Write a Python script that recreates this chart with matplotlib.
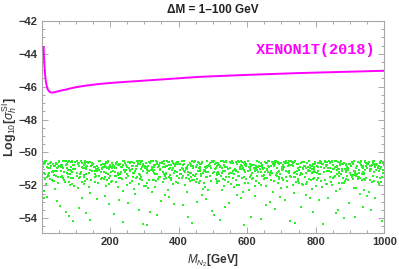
import matplotlib
matplotlib.use("Agg")
import matplotlib.pyplot as plt
from matplotlib.ticker import MultipleLocator

# XENON1T (2018) limit curve
curve_x = [6, 8, 10, 12, 15, 18, 22, 26, 30, 35, 40, 50, 60, 70, 85, 100, 130, 170, 220, 270, 350, 460, 600, 750, 1000]
curve_y = [-43.6, -44.6, -45.2, -45.6, -45.95, -46.15, -46.28, -46.34, -46.36, -46.35, -46.32, -46.27, -46.22,
           -46.18, -46.1, -46.03, -45.93, -45.83, -45.74, -45.67, -45.56, -45.4, -45.28, -45.17, -45.03]

# scan points: dense band
band_x = [
    14, 118, 243, 305, 421, 537, 611, 748, 822, 957,
    63, 171, 209, 386, 468, 592, 677, 713, 869, 931,
    38, 149, 282, 341, 407, 511, 655, 794, 847, 992,
    91, 102, 256, 367, 493, 569, 633, 726, 885, 914,
    27, 192, 224, 318, 444, 578, 694, 771, 808, 968,
    76, 135, 267, 399, 456, 503, 620, 759, 893, 946,
    5, 163, 238, 329, 482, 546, 687, 702, 834, 975,
    52, 184, 291, 352, 415, 527, 641, 783, 856, 909,
    83, 127, 216, 374, 437, 558, 669, 737, 877, 983,
    44, 156, 275, 336, 499, 584, 602, 764, 815, 951,
    19, 108, 231, 311, 461, 516, 659, 719, 863, 924,
    69, 196, 262, 389, 428, 573, 627, 791, 899, 962,
    31, 141, 205, 358, 474, 535, 683, 744, 841, 937,
    95, 177, 288, 323, 409, 596, 648, 707, 872, 996,
    9, 124, 249, 347, 451, 508, 615, 777, 828, 919,
    58, 166, 221, 395, 487, 562, 672, 733, 889, 973,
    36, 115, 279, 306, 433, 529, 637, 798, 851, 942,
    87, 188, 214, 363, 479, 581, 694, 756, 806, 987,
    22, 131, 258, 332, 418, 549, 608, 721, 867, 903,
    73, 159, 296, 381, 462, 514, 663, 789, 833, 958,
    48, 102, 237, 315, 446, 591, 624, 748, 894, 929,
    97, 173, 269, 354, 405, 543, 699, 712, 818, 966,
    3, 138, 202, 392, 491, 576, 652, 767, 876, 911,
    61, 191, 281, 327, 425, 521, 618, 739, 845, 984,
    34, 152, 246, 369, 471, 567, 681, 704, 861, 947,
    81, 111, 218, 302, 438, 506, 646, 794, 823, 916,
    16, 179, 273, 343, 484, 555, 612, 727, 884, 978,
    66, 127, 254, 376, 413, 532, 667, 778, 852, 938,
    42, 197, 209, 338, 459, 589, 639, 751, 807, 991,
    93, 144, 292, 397, 426, 518, 688, 715, 898, 925,
    11, 106, 227, 319, 441, 553, 629, 763, 871, 955,
    56, 168, 289, 359, 497, 598, 674, 708, 812, 934,
    25, 121, 241, 384, 453, 524, 605, 792, 858, 999,
    78, 186, 264, 325, 411, 571, 691, 734, 836, 912,
    39, 133, 206, 371, 469, 542, 657, 781, 881, 961,
    88, 155, 284, 308, 432, 586, 621, 722, 849, 943,
    7, 114, 232, 351, 488, 505, 684, 757, 803, 988,
    64, 199, 271, 393, 416, 564, 643, 796, 866, 920,
    46, 147, 223, 334, 477, 537, 696, 741, 892, 971,
    99, 176, 252, 366, 448, 593, 632, 703, 827, 951,
    29, 104, 297, 313, 404, 515, 661, 776, 855, 907,
    71, 161, 216, 387, 493, 578, 619, 729, 813, 982,
    18, 139, 286, 328, 435, 549, 677, 786, 897, 933,
    85, 193, 247, 372, 457, 509, 636, 714, 841, 966,
    50, 126, 264, 347, 422, 582, 651, 753, 874, 917,
    2, 183, 229, 301, 483, 533, 608, 799, 829, 996,
    75, 117, 278, 356, 414, 566, 689, 732, 863, 944,
    33, 170, 211, 385, 466, 521, 664, 768, 816, 976,
    90, 148, 259, 317, 443, 597, 626, 711, 887, 909,
    54, 194, 236, 378, 498, 557, 682, 784, 838, 959,
    4, 129, 244, 309, 424, 547, 616, 746, 824, 953,
    60, 174, 208, 383, 464, 595, 673, 718, 864, 936,
    41, 146, 285, 344, 403, 513, 659, 797, 846, 989,
    89, 107, 259, 364, 495, 566, 635, 723, 887, 915,
    24, 189, 226, 321, 442, 579, 691, 772, 809, 970,
    77, 132, 266, 396, 458, 502, 623, 761, 892, 945,
    10, 162, 240, 327, 480, 545, 686, 701, 835, 974,
    51, 182, 293, 353, 417, 528, 642, 782, 857, 910,
    84, 128, 215, 373, 436, 559, 668, 738, 878, 984,
    45, 157, 276, 337, 500, 585, 601, 765, 814, 950,
    20, 109, 230, 310, 462, 517, 660, 720, 862, 925,
    70, 195, 263, 390, 427, 574, 628, 790, 900, 963,
    32, 140, 204, 357, 475, 534, 684, 745, 840, 938,
    96, 178, 287, 324, 410, 595, 649, 706, 873, 995,
    8, 125, 248, 346, 452, 507, 614, 778, 829, 920,
    57, 167, 222, 394, 486, 563, 671, 732, 888, 972,
    35, 116, 280, 307, 434, 530, 638, 797, 850, 941,
    86, 187, 213, 362, 478, 580, 695, 755, 805, 986,
    23, 130, 257, 331, 419, 550, 607, 722, 868, 904,
    74, 160, 295, 380, 463, 513, 662, 788, 834, 957,
]
band_y = [
    -50.52, -50.88, -51.21, -50.67, -51.03, -50.59, -51.35, -50.94, -50.71, -51.12,
    -50.97, -50.55, -50.79, -51.28, -50.63, -51.09, -50.84, -50.51, -51.19, -50.76,
    -51.15, -50.69, -50.58, -50.91, -51.33, -50.82, -50.65, -51.06, -50.57, -50.89,
    -50.74, -51.24, -50.96, -50.53, -50.81, -50.68, -51.17, -50.78, -50.99, -51.36,
    -50.61, -50.93, -51.38, -51.07, -50.56, -50.99, -50.72, -51.26, -50.66, -50.54,
    -51.31, -50.62, -50.85, -50.73, -51.14, -50.51, -50.95, -50.61, -51.04, -50.83,
    -50.86, -51.11, -50.54, -51.23, -50.89, -51.29, -50.58, -50.87, -50.74, -51.08,
    -50.58, -50.77, -51.01, -50.64, -50.71, -50.94, -51.22, -51.13, -50.55, -50.68,
    -51.05, -50.52, -50.69, -50.97, -51.27, -50.65, -50.80, -50.57, -51.16, -50.92,
    -50.70, -51.34, -50.83, -50.56, -50.60, -51.02, -50.53, -50.98, -50.86, -50.63,
    -50.95, -50.66, -51.18, -50.81, -50.98, -50.73, -51.09, -50.64, -51.30, -50.58,
    -50.54, -50.89, -50.60, -51.12, -50.76, -50.55, -50.92, -51.20, -50.69, -51.01,
    -51.20, -50.58, -50.93, -50.68, -51.06, -51.15, -50.61, -50.72, -50.97, -50.80,
    -50.79, -51.03, -50.72, -50.99, -50.53, -50.84, -51.37, -50.90, -50.62, -51.25,
    -50.65, -50.74, -51.29, -51.04, -50.87, -50.62, -50.77, -51.05, -50.52, -50.96,
    -51.10, -50.96, -50.57, -50.61, -51.21, -51.08, -50.56, -50.66, -51.07, -50.71,
    -50.83, -51.19, -50.81, -50.86, -50.67, -50.52, -50.99, -50.59, -50.78, -51.32,
    -50.57, -50.60, -50.97, -51.31, -50.94, -50.79, -51.14, -51.23, -50.91, -50.58,
    -51.26, -50.86, -50.63, -50.75, -51.11, -50.97, -50.69, -50.54, -51.28, -50.85,
    -50.68, -51.07, -51.10, -50.51, -50.72, -51.18, -50.87, -50.82, -50.60, -51.05,
    -50.91, -50.53, -50.74, -51.16, -50.59, -50.66, -51.03, -50.69, -50.93, -50.67,
    -51.02, -50.79, -51.27, -50.88, -51.33, -51.01, -50.62, -51.10, -50.73, -50.56,
    -50.60, -51.23, -50.88, -50.66, -50.80, -50.57, -51.19, -50.58, -51.03, -51.14,
    -50.77, -50.65, -50.55, -51.09, -50.98, -50.86, -50.75, -51.17, -50.57, -50.81,
    -51.13, -50.90, -51.05, -50.60, -51.24, -51.13, -50.55, -50.76, -50.82, -50.63,
    -50.55, -51.29, -50.66, -50.94, -50.54, -50.70, -50.98, -50.96, -51.21, -51.27,
    -50.89, -50.71, -51.15, -50.80, -50.85, -51.26, -50.84, -50.55, -50.65, -50.72,
    -51.22, -50.56, -50.61, -51.35, -51.02, -50.61, -51.25, -50.88, -50.99, -50.97,
    -50.63, -51.00, -50.91, -50.70, -50.65, -50.95, -50.66, -51.06, -51.11, -50.53,
    -50.99, -50.82, -50.53, -50.58, -51.17, -50.74, -50.92, -50.62, -50.68, -51.09,
    -50.50, -50.62, -50.71, -50.55, -50.83, -50.66, -50.51, -50.93, -50.74, -50.59,
    -50.78, -50.53, -50.60, -50.87, -50.52, -50.81, -50.70, -50.57, -50.64, -50.90,
    -50.67, -50.95, -50.50, -50.63, -50.74, -50.54, -50.86, -50.69, -50.50, -50.76,
    -50.56, -50.70, -50.84, -50.52, -50.96, -50.72, -50.58, -50.80, -50.92, -50.51,
    -50.85, -50.58, -50.66, -50.78, -50.57, -50.91, -50.63, -50.51, -50.69, -50.84,
    -50.61, -50.86, -50.53, -50.97, -50.64, -50.56, -50.95, -50.75, -50.55, -50.60,
    -50.73, -50.51, -50.89, -50.60, -50.79, -50.68, -50.53, -50.62, -50.83, -50.66,
    -50.52, -50.77, -50.62, -50.69, -50.55, -50.99, -50.76, -50.87, -50.58, -50.80,
    -50.94, -50.64, -50.76, -50.54, -50.88, -50.50, -50.67, -50.55, -50.96, -50.52,
    -50.58, -50.92, -50.57, -50.82, -50.51, -50.75, -50.89, -50.98, -50.61, -50.71,
    -50.80, -50.55, -50.68, -50.59, -50.70, -50.63, -50.52, -50.66, -50.86, -50.57,
    -50.51, -50.82, -50.94, -50.73, -50.62, -50.86, -50.74, -50.53, -50.52, -50.88,
    -50.69, -50.60, -50.52, -50.90, -50.84, -50.57, -50.61, -50.81, -50.70, -50.55,
    -50.88, -50.50, -50.79, -50.56, -50.59, -50.93, -50.80, -50.60, -50.65, -50.73,
    -50.55, -50.73, -50.61, -50.65, -50.97, -50.52, -50.58, -50.90, -50.54, -50.94,
    -50.60, -50.87, -50.70, -50.83, -50.53, -50.78, -50.96, -50.71, -50.77, -50.62,
    -50.96, -50.66, -50.55, -50.51, -50.76, -50.61, -50.65, -50.56, -50.91, -50.50,
    -50.72, -50.54, -50.85, -50.95, -50.68, -50.83, -50.54, -50.84, -50.59, -50.79,
    -50.53, -50.79, -50.58, -50.62, -50.92, -50.69, -50.83, -50.64, -50.72, -50.67,
    -50.82, -50.59, -50.90, -50.77, -50.57, -50.55, -50.71, -50.94, -50.51, -50.85,
    -51.25, -50.98, -50.62, -51.08, -50.88, -51.31, -50.77, -51.14, -50.93, -50.69,
    -50.84, -51.20, -51.12, -50.92, -51.29, -50.61, -51.27, -50.83, -51.01, -51.30,
    -50.71, -51.12, -51.32, -50.79, -51.04, -51.23, -51.00, -50.62, -51.19, -50.98,
    -51.17, -50.72, -51.07, -51.24, -50.97, -51.05, -50.60, -51.26, -50.75, -51.13,
    -50.93, -51.28, -50.76, -50.90, -51.35, -50.87, -51.22, -50.95, -51.34, -51.21,
    -51.06, -50.81, -51.24, -51.18, -50.92, -51.21, -51.11, -51.30, -50.87, -51.04,
    -51.33, -51.02, -51.08, -50.74, -51.18, -50.99, -51.28, -51.09, -51.15, -50.84,
    -50.80, -51.22, -50.86, -51.20, -51.11, -51.28, -50.91, -50.79, -50.88, -51.36,
    -51.29, -50.94, -51.22, -51.02, -50.78, -51.11, -51.36, -51.24, -50.73, -51.16,
    -51.10, -51.16, -50.98, -51.33, -51.23, -50.83, -51.13, -50.84, -51.30, -50.93,
    -51.38, -50.84, -51.34, -51.12, -51.14, -51.31, -50.81, -51.18, -51.07, -51.27,
    -50.76, -51.31, -51.03, -50.85, -51.36, -51.20, -51.05, -50.99, -51.25, -50.75,
    -51.20, -51.09, -51.17, -51.29, -51.10, -50.89, -51.37, -51.32, -51.12, -51.19,
    -51.01, -50.91, -51.36, -51.14, -50.96, -51.17, -50.93, -51.03, -51.34, -51.08,
    -51.27, -51.35, -50.90, -51.00, -51.32, -51.03, -51.26, -51.16, -50.81, -51.31,
    -50.88, -51.05, -51.27, -51.22, -50.85, -51.34, -51.16, -50.78, -51.21, -50.89,
    -51.36, -51.25, -50.73, -51.26, -51.27, -51.10, -50.85, -51.22, -51.02, -51.23,
    -51.13, -50.87, -51.19, -50.82, -51.06, -50.92, -51.30, -51.35, -51.28, -51.11,
    -50.95, -51.30, -51.14, -51.34, -51.21, -51.26, -51.07, -51.13, -50.98, -51.35,
    -51.24, -51.00, -50.80, -51.07, -50.89, -51.37, -51.20, -51.27, -51.16, -51.00,
]

# scan points: thinning region below the band
mid_x = [
    21, 134, 257, 342, 476, 519, 645, 773, 859, 948,
    68, 187, 213, 379, 409, 588, 603, 739, 826, 913,
    40, 112, 294, 305, 452, 546, 698, 716, 891, 985,
    86, 165, 239, 361, 429, 571, 658, 788, 844, 927,
    12, 142, 276, 333, 487, 508, 627, 747, 802, 969,
    59, 198, 224, 398, 437, 562, 676, 724, 879, 940,
    31, 123, 268, 321, 463, 539, 614, 762, 867, 994,
    94, 176, 203, 356, 418, 594, 693, 705, 818, 922,
    47, 105, 287, 374, 491, 527, 641, 795, 853, 956,
    79, 159, 249, 312, 445, 575, 669, 736, 886, 908,
    6, 191, 217, 391, 471, 512, 622, 779, 832, 979,
    63, 137, 299, 345, 402, 553, 687, 751, 872, 934,
    37, 181, 233, 369, 458, 597, 635, 717, 806, 963,
    82, 119, 271, 328, 425, 531, 653, 769, 895, 918,
    26, 156, 206, 384, 481, 568, 606, 742, 847, 989,
    15, 127, 252, 339, 473, 523, 648, 776, 856, 944,
    65, 184, 218, 377, 412, 585, 609, 735, 829, 919,
    42, 110, 291, 309, 455, 543, 692, 713, 889, 982,
    88, 168, 236, 364, 432, 574, 655, 785, 841, 930,
    10, 145, 279, 330, 484, 511, 630, 749, 804, 967,
    57, 196, 227, 395, 440, 559, 678, 727, 876, 942,
    33, 125, 265, 324, 466, 536, 617, 760, 869, 991,
    92, 174, 201, 353, 421, 591, 690, 703, 815, 924,
    49, 102, 285, 372, 494, 529, 643, 792, 851, 959,
    76, 157, 246, 314, 447, 577, 671, 738, 883, 906,
]
mid_y = [
    -51.45, -51.62, -51.88, -51.51, -52.10, -51.73, -51.41, -51.95, -52.32, -51.57,
    -51.78, -52.05, -51.44, -51.69, -51.55, -52.41, -51.84, -51.48, -51.66, -52.18,
    -52.25, -51.49, -51.67, -52.03, -51.82, -51.52, -52.14, -51.71, -51.43, -51.92,
    -51.58, -51.83, -52.36, -51.46, -51.60, -51.99, -51.53, -52.22, -51.79, -51.47,
    -51.93, -52.48, -51.56, -51.74, -52.27, -51.64, -51.76, -51.59, -52.06, -51.71,
    -51.42, -51.58, -52.11, -51.89, -51.47, -52.09, -52.38, -51.44, -51.55, -52.30,
    -51.67, -51.91, -51.49, -52.43, -51.72, -51.48, -51.61, -52.01, -51.86, -51.51,
    -52.07, -51.54, -51.77, -51.61, -51.97, -51.83, -51.52, -51.68, -52.13, -51.63,
    -51.50, -52.19, -51.63, -51.55, -51.45, -52.28, -51.98, -51.57, -51.49, -52.40,
    -51.81, -51.45, -51.98, -52.16, -51.66, -51.42, -51.70, -52.45, -51.74, -51.59,
    -52.34, -51.69, -51.43, -51.80, -52.20, -51.76, -52.05, -51.62, -51.90, -51.47,
    -51.53, -52.12, -52.02, -51.47, -51.58, -51.94, -51.46, -51.84, -52.24, -51.69,
    -51.72, -51.64, -51.55, -52.26, -51.87, -51.60, -51.89, -52.08, -51.54, -51.81,
    -51.96, -51.81, -52.20, -51.66, -52.39, -52.04, -51.57, -51.50, -51.68, -52.15,
    -51.60, -51.50, -51.73, -51.93, -51.51, -51.67, -52.29, -51.78, -52.00, -51.54,
    -51.52, -51.74, -51.41, -51.62, -51.88, -51.46, -51.59, -51.80, -51.44, -51.70,
    -51.66, -51.48, -51.82, -51.53, -51.43, -51.57, -51.47, -52.00, -51.93, -51.46,
    -51.44, -51.56, -51.50, -51.85, -51.64, -51.78, -51.62, -51.52, -51.61, -51.79,
    -51.90, -51.43, -51.64, -51.57, -51.76, -51.45, -52.02, -51.65, -51.50, -51.58,
    -51.61, -51.69, -51.47, -52.08, -51.50, -51.86, -51.45, -51.72, -51.67, -51.44,
    -51.48, -51.95, -51.58, -51.44, -51.69, -51.54, -51.74, -51.49, -51.83, -51.63,
    -51.75, -51.52, -51.71, -51.65, -51.46, -51.66, -51.53, -51.90, -51.46, -51.80,
    -51.56, -51.63, -51.45, -51.78, -51.55, -51.48, -51.87, -51.56, -51.72, -51.48,
    -51.84, -51.42, -51.92, -51.48, -51.73, -51.61, -51.46, -51.63, -51.58, -51.66,
    -51.47, -51.80, -51.55, -51.70, -51.45, -51.97, -51.68, -51.47, -51.85, -51.52,
]

# scan points: sparse tail
tail_x = [
    17, 108, 226, 338, 467, 522, 668, 783, 865, 951,
    72, 163, 295, 359, 414, 583, 612, 726, 811, 937,
    44, 129, 251, 307, 496, 548, 697, 758, 884, 972,
    91, 185, 212, 387, 439, 504, 639, 709, 837, 916,
    55, 141, 274, 348, 453, 569, 681, 793, 858, 993,
    8, 197, 238, 316, 481, 591, 622, 741, 896, 928,
    79, 118, 283, 372, 426, 536, 655, 771, 822, 960,
]
tail_y = [
    -52.70, -53.40, -52.90, -53.80, -52.60, -54.10, -53.00, -52.80, -53.50, -52.65,
    -53.60, -52.85, -54.35, -52.60, -53.20, -52.75, -53.90, -54.20, -52.90, -53.30,
    -52.95, -53.70, -53.10, -54.40, -53.55, -53.05, -52.70, -53.35, -54.00, -52.80,
    -54.20, -52.65, -53.75, -53.15, -54.30, -53.80, -54.05, -52.90, -52.75, -53.95,
    -53.25, -54.10, -52.55, -52.95, -53.00, -52.60, -53.45, -53.60, -53.70, -54.15,
    -52.80, -53.15, -54.25, -53.60, -52.85, -54.40, -52.65, -54.30, -53.10, -52.55,
    -53.85, -52.75, -53.50, -52.70, -53.90, -53.30, -53.20, -52.60, -54.35, -53.50,
]

x_ticks = [200, 400, 600, 800, 1000]
y_ticks = [-54, -52, -50, -48, -46, -44, -42]

plt.rcParams['font.family'] = ['Liberation Sans', 'DejaVu Sans']
plt.rcParams['mathtext.fontset'] = 'custom'
plt.rcParams['mathtext.rm'] = 'Liberation Sans'
plt.rcParams['mathtext.it'] = 'Liberation Sans:italic'
plt.rcParams['mathtext.bf'] = 'Liberation Sans:bold'

fig = plt.figure(figsize=(3.99, 2.69), dpi=100)
ax = fig.add_axes([0.105, 0.134, 0.858, 0.788])

green = '#2cf02c'
for xs, ys in ((band_x, band_y), (mid_x, mid_y), (tail_x, tail_y)):
    ax.scatter(xs, ys, s=2.4, marker='s', color=green, linewidths=0, zorder=2)

ax.plot(curve_x, curve_y, color='#ff00ff', lw=1.4, zorder=3)

ax.text(626, -43.75, 'XENON1T(2018)', color='#ff00ff', fontsize=11,
        family='Liberation Mono', fontweight='bold', va='center', ha='left')

ax.set_xlim(1, 1000)
ax.set_ylim(-54.9, -42)
ax.set_xticks(x_ticks)
ax.set_yticks(y_ticks)
ax.xaxis.set_minor_locator(MultipleLocator(50))
ax.yaxis.set_minor_locator(MultipleLocator(0.5))

for sp in ax.spines.values():
    sp.set_color('#a8a8a8')
    sp.set_linewidth(0.8)

ax.tick_params(which='both', direction='in', top=True, right=True, color='#a8a8a8', width=0.7)
ax.tick_params(which='major', length=4, labelsize=8, labelcolor='#333333', pad=3)
ax.tick_params(which='minor', length=2.2)
for lab in ax.get_xticklabels() + ax.get_yticklabels():
    lab.set_fontweight('bold')

ax.set_title('ΔM = 1–100 GeV', fontsize=8.5, fontweight='bold', color='#222222', pad=6)
ax.set_xlabel(r'$M_{N_2}$[GeV]', fontsize=8.5, fontweight='bold', color='#333333', labelpad=4)
fig.text(10 / 399, 1 - 127 / 269, r'Log$_{10}$[$\sigma_{h}^{\rm SI}$]', rotation=90,
         fontsize=9, fontweight='bold', color='#333333', ha='center', va='center')

fig.savefig('out.png', dpi=100)
